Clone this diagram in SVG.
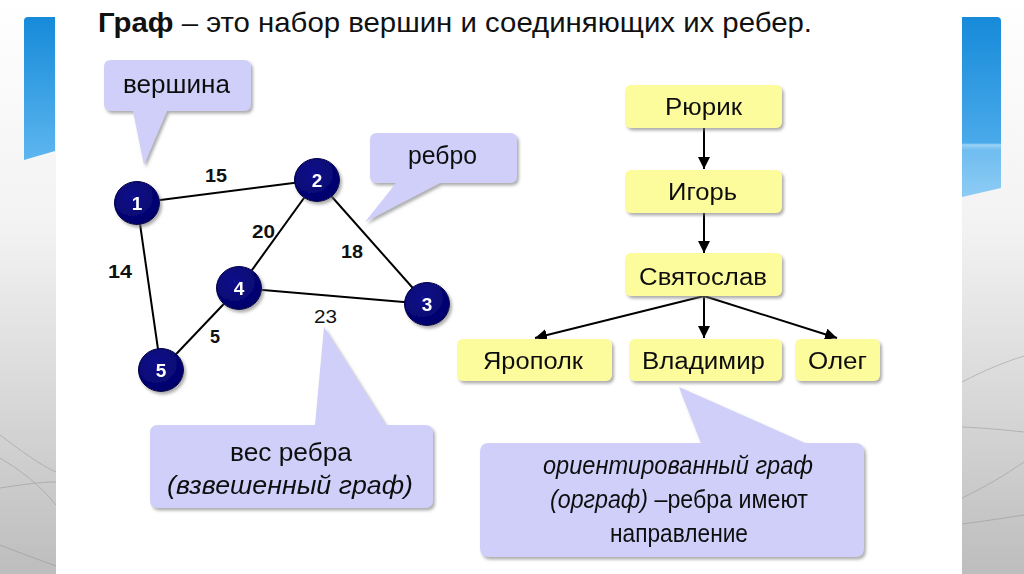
<svg xmlns="http://www.w3.org/2000/svg" width="1024" height="574" viewBox="0 0 1024 574">
<defs>
<linearGradient id="sideL" x1="0" y1="0" x2="0" y2="1">
<stop offset="0" stop-color="#ffffff"/><stop offset="0.4" stop-color="#f2f2f2"/><stop offset="1" stop-color="#bdbdbd"/>
</linearGradient>
<linearGradient id="blueL" x1="0" y1="0" x2="0" y2="1">
<stop offset="0" stop-color="#168ad9"/><stop offset="1" stop-color="#5db6ef"/>
</linearGradient>
<linearGradient id="blueR" x1="0" y1="0" x2="0" y2="1">
<stop offset="0" stop-color="#168ad9"/><stop offset="0.7" stop-color="#4aaaea"/><stop offset="0.71" stop-color="#9bd2f5"/><stop offset="0.74" stop-color="#6fbdf0"/><stop offset="1" stop-color="#8dccf4"/>
</linearGradient>
<radialGradient id="node" cx="0.4" cy="0.35" r="0.7">
<stop offset="0" stop-color="#12128c"/><stop offset="1" stop-color="#000068"/>
</radialGradient>
<filter id="sh" x="-10%" y="-10%" width="130%" height="140%">
<feDropShadow dx="2" dy="2.5" stdDeviation="1.5" flood-color="#777" flood-opacity="0.6"/>
</filter>
<marker id="arr" markerUnits="userSpaceOnUse" markerWidth="12" markerHeight="12" viewBox="0 0 12 12" refX="12" refY="6" orient="auto">
<path d="M0,0 L12,6 L0,12 z" fill="#000"/>
</marker>
<style>
.t{font-family:"Liberation Sans",Arial,sans-serif;fill:#111;}
.call{fill:#cfcffa;}
.yel{fill:#fcfc9c;}
.num{font-family:"Liberation Sans",Arial,sans-serif;font-weight:bold;font-size:18px;fill:#111;}
.nid{font-family:"Liberation Sans",Arial,sans-serif;font-weight:bold;font-size:19px;fill:#fff;text-anchor:middle;}
.edge{stroke:#000;stroke-width:2;fill:none;}
.side{stroke:#8a8a8a;stroke-width:1;fill:none;opacity:0.45;}
</style>
</defs>

<!-- background -->
<rect x="0" y="0" width="1024" height="574" fill="#ffffff"/>
<rect x="0" y="0" width="56" height="574" fill="url(#sideL)"/>
<rect x="962" y="0" width="62" height="574" fill="url(#sideL)"/>
<g class="side">
<path d="M0,435 C20,450 40,465 56,472"/>
<path d="M0,458 C20,470 40,485 56,505"/>
<path d="M0,488 C20,485 40,482 56,482"/>
<path d="M0,545 C20,553 40,560 56,566"/>
<path d="M962,382 C985,370 1005,362 1024,356"/>
<path d="M962,498 C985,487 1005,475 1024,462"/>
<path d="M962,524 C985,521 1005,518 1024,515"/>
<path d="M962,427 C985,428 1005,430 1024,432"/>
</g>
<path d="M24,21 Q24,17 28,17 L55,17 L55,151 L24,160 Z" fill="url(#blueL)"/>
<path d="M962,17 L997,17 Q1001,17 1001,21 L1001,188 L962,197 Z" fill="url(#blueR)"/>

<!-- title -->
<text class="t" x="98" y="32" font-size="27.5" textLength="714" lengthAdjust="spacingAndGlyphs"><tspan font-weight="bold">Граф</tspan> – это набор вершин и соединяющих их ребер.</text>

<!-- callouts -->
<g id="callout-vershina" filter="url(#sh)">
<path class="call" d="M111,60 H244 Q251,60 251,67 V104 Q251,111 244,111 H167 L144,165 L133,111 H111 Q104,111 104,104 V67 Q104,60 111,60 Z"/>
<text class="t" x="123" y="93" font-size="25" textLength="107" lengthAdjust="spacingAndGlyphs">вершина</text>
</g>
<g id="callout-rebro" filter="url(#sh)">
<path class="call" d="M377,133 H510 Q517,133 517,140 V176 Q517,183 510,183 H440 L365,222 L396,183 H377 Q370,183 370,176 V140 Q370,133 377,133 Z"/>
<text class="t" x="408" y="164" font-size="25" textLength="69" lengthAdjust="spacingAndGlyphs">ребро</text>
</g>
<g id="callout-ves" filter="url(#sh)">
<path class="call" d="M158,425 H315 L324,327 L386,425 H425 Q433,425 433,433 V500 Q433,508 425,508 H158 Q150,508 150,500 V433 Q150,425 158,425 Z"/>
<text class="t" x="230" y="461" font-size="25" textLength="122" lengthAdjust="spacingAndGlyphs">вес ребра</text>
<text class="t" x="167" y="494" font-size="25" font-style="italic" textLength="246" lengthAdjust="spacingAndGlyphs">(взвешенный граф)</text>
</g>
<g id="callout-orient" filter="url(#sh)">
<path class="call" d="M489,443 H701 L679,387 L805,443 H855 Q864,443 864,452 V548 Q864,557 855,557 H489 Q480,557 480,548 V452 Q480,443 489,443 Z"/>
<text class="t" x="543" y="474" font-size="25" font-style="italic" textLength="270" lengthAdjust="spacingAndGlyphs">ориентированный граф</text>
<text class="t" x="550" y="508" font-size="25" textLength="258" lengthAdjust="spacingAndGlyphs"><tspan font-style="italic">(орграф)</tspan> –ребра имеют</text>
<text class="t" x="610" y="542" font-size="25" textLength="138" lengthAdjust="spacingAndGlyphs">направление</text>
</g>

<!-- connectors -->
<g id="connectors">
<line class="edge" x1="137" y1="203" x2="317" y2="180"/>
<line class="edge" x1="137" y1="203" x2="161" y2="370"/>
<line class="edge" x1="317" y1="180" x2="239" y2="288"/>
<line class="edge" x1="317" y1="180" x2="427" y2="304"/>
<line class="edge" x1="239" y1="288" x2="427" y2="304"/>
<line class="edge" x1="239" y1="288" x2="161" y2="370"/>
<line class="edge" x1="704" y1="128" x2="704" y2="169" marker-end="url(#arr)"/>
<line class="edge" x1="704" y1="213" x2="704" y2="253" marker-end="url(#arr)"/>
<line class="edge" x1="704" y1="296" x2="535" y2="338" marker-end="url(#arr)"/>
<line class="edge" x1="704" y1="296" x2="704" y2="338" marker-end="url(#arr)"/>
<line class="edge" x1="704" y1="296" x2="837" y2="338" marker-end="url(#arr)"/>
</g>

<!-- edge weights -->
<g id="weights">
<text class="num" x="205" y="182" textLength="22" lengthAdjust="spacingAndGlyphs">15</text>
<text class="num" x="108" y="278" textLength="24" lengthAdjust="spacingAndGlyphs">14</text>
<text class="num" x="252" y="238" textLength="23" lengthAdjust="spacingAndGlyphs">20</text>
<text class="num" x="341" y="258" textLength="22" lengthAdjust="spacingAndGlyphs">18</text>
<text class="num" x="210" y="343">5</text>
<text class="t" x="314" y="323" font-size="18" textLength="23" lengthAdjust="spacingAndGlyphs">23</text>
</g>

<!-- graph nodes -->
<g id="n1" filter="url(#sh)"><ellipse cx="137" cy="203" rx="22.5" ry="21.5" fill="url(#node)" stroke="#00004a" stroke-width="1"/><text class="nid" x="137" y="210">1</text></g>
<g id="n2" filter="url(#sh)"><ellipse cx="317" cy="180" rx="22.5" ry="21.5" fill="url(#node)" stroke="#00004a" stroke-width="1"/><text class="nid" x="317" y="187">2</text></g>
<g id="n3" filter="url(#sh)"><ellipse cx="427" cy="304" rx="22.5" ry="21.5" fill="url(#node)" stroke="#00004a" stroke-width="1"/><text class="nid" x="427" y="311">3</text></g>
<g id="n4" filter="url(#sh)"><ellipse cx="239" cy="288" rx="22.5" ry="21.5" fill="url(#node)" stroke="#00004a" stroke-width="1"/><text class="nid" x="239" y="295">4</text></g>
<g id="n5" filter="url(#sh)"><ellipse cx="161" cy="370" rx="22.5" ry="21.5" fill="url(#node)" stroke="#00004a" stroke-width="1"/><text class="nid" x="161" y="377">5</text></g>

<!-- tree nodes -->
<g id="rurik" filter="url(#sh)"><rect class="yel" x="625" y="85" width="157" height="43" rx="6"/><text class="t" x="665" y="115" font-size="23.5" textLength="77" lengthAdjust="spacingAndGlyphs">Рюрик</text></g>
<g id="igor" filter="url(#sh)"><rect class="yel" x="625" y="170" width="157" height="43" rx="6"/><text class="t" x="668" y="200" font-size="23.5" textLength="69" lengthAdjust="spacingAndGlyphs">Игорь</text></g>
<g id="svyatoslav" filter="url(#sh)"><rect class="yel" x="625" y="253" width="157" height="43" rx="6"/><text class="t" x="639" y="285" font-size="23.5" textLength="128" lengthAdjust="spacingAndGlyphs">Святослав</text></g>
<g id="yaropolk" filter="url(#sh)"><rect class="yel" x="457" y="339" width="155" height="42" rx="6"/><text class="t" x="483" y="369" font-size="23.5" textLength="100" lengthAdjust="spacingAndGlyphs">Ярополк</text></g>
<g id="vladimir" filter="url(#sh)"><rect class="yel" x="629" y="339" width="153" height="42" rx="6"/><text class="t" x="642" y="369" font-size="23.5" textLength="123" lengthAdjust="spacingAndGlyphs">Владимир</text></g>
<g id="oleg" filter="url(#sh)"><rect class="yel" x="795" y="339" width="85" height="42" rx="6"/><text class="t" x="808" y="369" font-size="23.5" textLength="59" lengthAdjust="spacingAndGlyphs">Олег</text></g>
</svg>
